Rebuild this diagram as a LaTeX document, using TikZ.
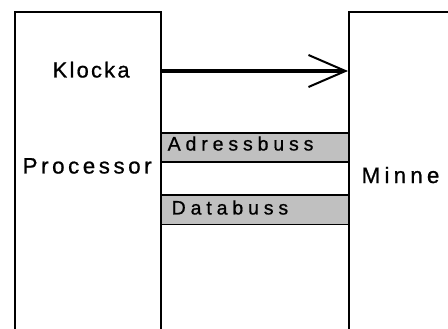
\documentclass[tikz,border=0pt]{standalone}
\usepackage{fontspec}
\setmainfont{Liberation Sans}
% letter-spaced variants of the label face
\newfontfamily\spacedK[LetterSpace=10.5,FakeBold=0.8]{Liberation Sans}
\newfontfamily\spacedP[LetterSpace=16,FakeBold=0.8]{Liberation Sans}
\newfontfamily\spacedM[LetterSpace=19,FakeBold=0.8]{Liberation Sans}
\newfontfamily\spacedB[LetterSpace=25,FakeBold=0.8]{Liberation Sans}
\usetikzlibrary{arrows.meta}
\definecolor{busgray}{RGB}{192,192,192}
\tikzset{
  unitbox/.style={draw=black, line width=2pt, fill=white, anchor=north west, inner sep=0pt},
  busbar/.style={draw=black, line width=1.6pt, fill=busgray, anchor=north west,
    minimum width=188pt, minimum height=29pt, inner sep=0pt},
  lbl/.style={anchor=base west, inner sep=0pt},
  clock/.style={line width=3.8pt, -{Straight Barb[length=37pt,width=32pt,line width=2pt]}}
}
\begin{document}
\begin{tikzpicture}[x=1pt,y=-1pt]
  \clip (0,0) rectangle (448,329);
  \fill[white] (0,0) rectangle (448,329);
  % processor and memory blocks, open towards the bottom
  \node[unitbox, minimum width=146pt, minimum height=340pt] (proc) at (14,11) {};
  \node[unitbox, minimum width=130pt, minimum height=340pt] (minne) at (348,11) {};
  % buses
  \node[busbar] (abus) at (160,132.5) {};
  \node[busbar] (dbus) at (160,194.5) {};
  % labels
  \node[lbl, font=\spacedK\fontsize{21.8}{26}\selectfont] (klocka) at (52.5,77.5) {Klocka};
  \node[lbl, font=\spacedP\fontsize{22.3}{26}\selectfont] (proclbl) at (22.5,173.5) {Processor};
  \node[lbl, font=\spacedM\fontsize{22.3}{26}\selectfont] (minnelbl) at (361.5,183) {Minne};
  \node[lbl, font=\spacedB\fontsize{19.5}{24}\selectfont] (abuslbl) at (167.5,150.5) {Adressbuss};
  \node[lbl, font=\spacedB\fontsize{19.5}{24}\selectfont] (dbuslbl) at (171.5,214.5) {Databuss};
  % clock line
  \coordinate (clkfrom) at (160,71);
  \coordinate (clkto) at (348,71);
  \draw[clock] (clkfrom) -- (clkto);
\end{tikzpicture}
\end{document}
